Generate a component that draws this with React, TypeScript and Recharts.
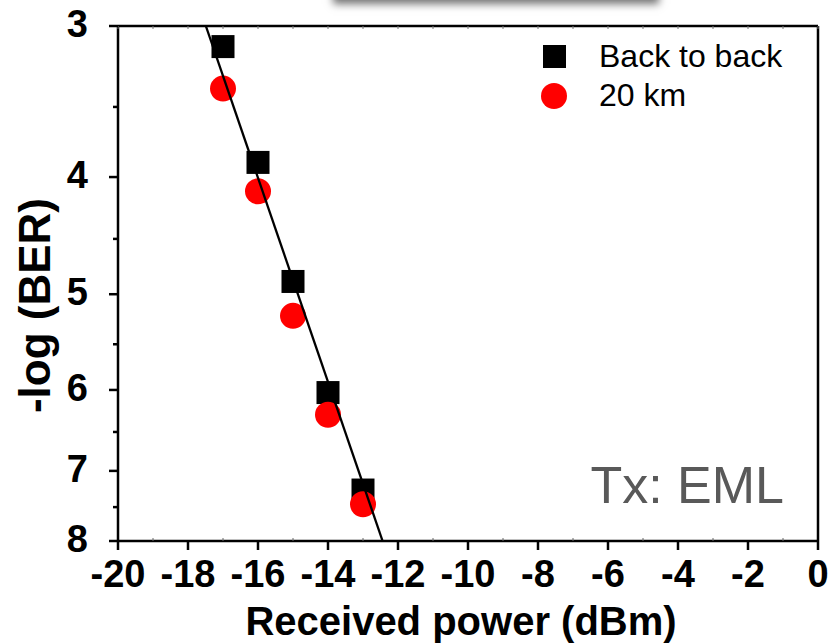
import React from 'react'
import { ScatterChart, Scatter, XAxis, YAxis, Legend } from 'recharts'

const FONT = '"Liberation Sans", Arial, sans-serif'

// Received power (dBm) for the measured points
const powerDbm = [-17, -16, -15, -14, -13]
// -log(BER) values
const backToBack = [3.12, 3.89, 4.88, 6.03, 7.26]
const km20 = [3.38, 4.11, 5.21, 6.29, 7.46]
// straight fit line end points
const fitPower = [-17.49, -12.44]
const fitBer = [3, 8]

const xTicks = [-20, -19, -18, -17, -16, -15, -14, -13, -12, -11, -10, -9, -8, -7, -6, -5, -4, -3, -2, -1, 0]
const yTicks = [3, 3.5, 4, 4.5, 5, 5.5, 6, 6.5, 7, 7.5, 8]
const seriesNames = ['Back to back', '20 km']

const b2bData = powerDbm.map((x, i) => ({ x, y: backToBack[i] }))
const kmData = powerDbm.map((x, i) => ({ x, y: km20[i] }))
const fitData = fitPower.map((x, i) => ({ x, y: fitBer[i] }))

const BottomTick = (props: any) => {
  const { x, y, payload } = props
  const v = payload.value
  const major = v % 2 === 0
  if (!major) {
    return <line x1={x} x2={x} y1={y} y2={y - 3} stroke="#666" strokeWidth={1} />
  }
  return (
    <g>
      <line x1={x} x2={x} y1={y} y2={y + 9} stroke="#000" strokeWidth={2.5} />
      <text x={x} y={y + 46} textAnchor="middle" fontSize={38} fontWeight="bold" fontFamily={FONT} fill="#000">
        {v}
      </text>
    </g>
  )
}

const TopTick = (props: any) => {
  const { x, y } = props
  return <line x1={x} x2={x} y1={y} y2={y + 3} stroke="#777" strokeWidth={1} />
}

const LeftTick = (props: any) => {
  const { x, y, payload } = props
  const v = payload.value
  const major = Number.isInteger(v)
  return (
    <g>
      <line x1={x - (major ? 9 : 5)} x2={x} y1={y} y2={y} stroke="#000" strokeWidth={2.5} />
      {major && (
        <text x={x - 30} y={y + 11} textAnchor="end" fontSize={38} fontWeight="bold" fontFamily={FONT} fill="#000">
          {v}
        </text>
      )}
    </g>
  )
}

const XTitle = (props: any) => {
  const { x, y, width } = props.viewBox
  return (
    <text x={x + width / 2 - 7} y={y + 94} textAnchor="middle" fontSize={40} fontWeight="bold" fontFamily={FONT} fill="#000">
      Received power (dBm)
    </text>
  )
}

const YTitle = (props: any) => {
  const { y, height } = props.viewBox
  const cx = 50
  const cy = y + height / 2 + 22
  return (
    <text
      x={cx}
      y={cy}
      transform={`rotate(-90, ${cx}, ${cy})`}
      textAnchor="middle"
      fontSize={44}
      fontWeight="bold"
      fontFamily={FONT}
      fill="#000"
    >
      -log (BER)
    </text>
  )
}

const SquareMark = (props: any) => <rect x={props.cx - 11.5} y={props.cy - 11.5} width={23} height={23} fill="#000" />
const CircleMark = (props: any) => <circle cx={props.cx} cy={props.cy} r={13} fill="#ff0000" />
const noMarker = () => <g />

const renderLegend = () => (
  <div style={{ fontFamily: FONT, fontSize: 32, color: '#000' }}>
    {seriesNames.map((name, i) => (
      <div key={name} style={{ display: 'flex', alignItems: 'center', height: 39 }}>
        <div style={{ width: 26, display: 'flex', justifyContent: 'center' }}>
          {i === 0 ? (
            <div style={{ width: 23, height: 23, background: '#000' }} />
          ) : (
            <div style={{ width: 26, height: 26, background: '#ff0000', borderRadius: '50%' }} />
          )}
        </div>
        <span style={{ marginLeft: 32, lineHeight: '39px' }}>{name}</span>
      </div>
    ))}
  </div>
)

export default function App() {
  return (
    <div style={{ position: 'absolute', left: 0, top: 0, width: 832, height: 643, background: '#fff', overflow: 'hidden' }}>
      {/* cut-off box with shadow at the top */}
      <div
        style={{
          position: 'absolute',
          left: 335,
          top: -40,
          width: 322,
          height: 40,
          background: '#fff',
          boxShadow: '0 2px 8px 2px rgba(0,0,0,0.55)',
        }}
      />
      <ScatterChart width={832} height={643} margin={{ top: 25, right: 13, bottom: 101, left: 117 }}>
        <XAxis
          type="number"
          dataKey="x"
          domain={[-20, 0]}
          ticks={xTicks}
          interval={0}
          height={1}
          tickSize={0}
          tickMargin={0}
          tickLine={false}
          tick={BottomTick}
          axisLine={{ stroke: '#000', strokeWidth: 2.5 }}
          allowDataOverflow
          label={<XTitle />}
        />
        <XAxis
          xAxisId="top"
          orientation="top"
          type="number"
          dataKey="x"
          domain={[-20, 0]}
          ticks={xTicks}
          interval={0}
          height={1}
          tickSize={0}
          tickMargin={0}
          tickLine={false}
          tick={TopTick}
          axisLine={{ stroke: '#000', strokeWidth: 2.5 }}
          allowDataOverflow
        />
        <YAxis
          type="number"
          dataKey="y"
          scale="log"
          domain={[3, 8]}
          reversed
          ticks={yTicks}
          interval={0}
          width={1}
          tickSize={0}
          tickMargin={0}
          tickLine={false}
          tick={LeftTick}
          axisLine={{ stroke: '#000', strokeWidth: 2.5 }}
          allowDataOverflow
          label={<YTitle />}
        />
        <YAxis
          yAxisId="right"
          orientation="right"
          type="number"
          dataKey="y"
          scale="log"
          domain={[3, 8]}
          reversed
          width={1}
          tick={false}
          tickLine={false}
          axisLine={{ stroke: '#000', strokeWidth: 2.5 }}
          allowDataOverflow
        />
        <Legend
          content={renderLegend}
          layout="vertical"
          align="center"
          verticalAlign="middle"
          wrapperStyle={{ left: 541, top: 37, width: 280 }}
        />
        <Scatter name={seriesNames[0]} data={b2bData} shape={SquareMark} fill="#000" isAnimationActive={false} />
        <Scatter name={seriesNames[1]} data={kmData} shape={CircleMark} fill="#ff0000" isAnimationActive={false} />
        <Scatter
          name="fit"
          data={fitData}
          shape={noMarker}
          line={{ stroke: '#000', strokeWidth: 2.3 }}
          lineType="joint"
          legendType="none"
          isAnimationActive={false}
        />
      </ScatterChart>
      <svg width={832} height={643} style={{ position: 'absolute', left: 0, top: 0, pointerEvents: 'none' }}>
        <text x={784} y={503} textAnchor="end" fontSize={52} fontFamily={FONT} fill="#595959">
          Tx: EML
        </text>
      </svg>
    </div>
  )
}
